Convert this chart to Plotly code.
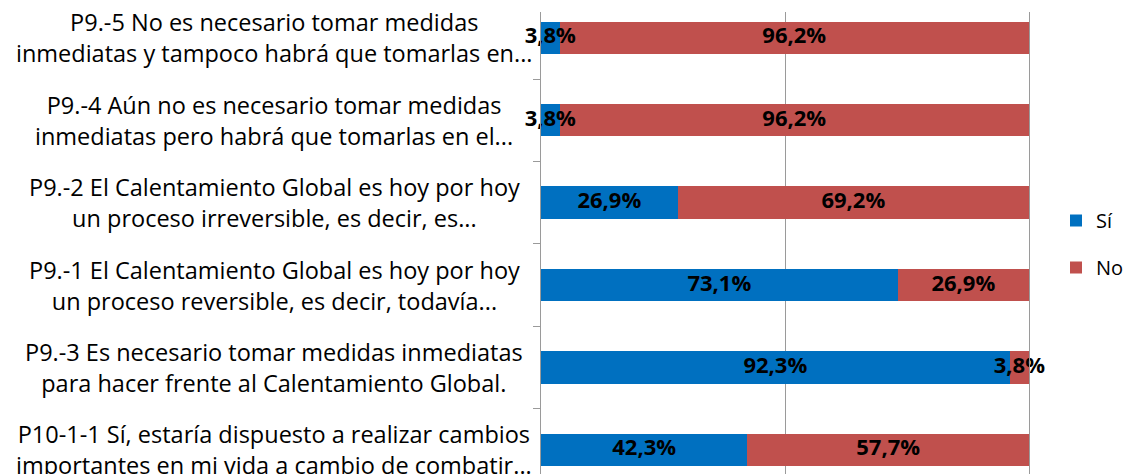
import numpy as np
import plotly.graph_objects as go

# ---- data ----
categories = [
    "P9.-5 No es necesario tomar medidas<br>inmediatas y tampoco habrá que tomarlas en...",
    "P9.-4 Aún no es necesario tomar medidas<br>inmediatas pero habrá que tomarlas en el...",
    "P9.-2 El Calentamiento Global es hoy por hoy<br>un proceso irreversible, es decir, es...",
    "P9.-1 El Calentamiento Global es hoy por hoy<br>un proceso reversible, es decir, todavía...",
    "P9.-3 Es necesario tomar medidas inmediatas<br>para hacer frente al Calentamiento Global.",
    "P10-1-1 Sí, estaría dispuesto a realizar cambios<br>importantes en mi vida a cambio de combatir...",
]
si_values = [3.8, 3.8, 26.9, 73.1, 92.3, 42.3]
no_values = [96.2, 96.2, 69.2, 26.9, 3.8, 57.7]
series_names = ["Sí", "No"]

# ---- styles ----
BLUE = "#0070C0"
RED = "#C0504D"
AXIS_GREY = "#9a9a9a"
FONT = "Open Sans"

W, H = 1124, 474
L, R, T, B = 541, 95, 12, 0
plot_w = W - L - R
plot_h = H - T - B

si = np.array(si_values)
no = np.array(no_values)
tot = si + no
si_n = si / tot * 100
no_n = no / tot * 100


def fmt(v):
    return f"{v:.1f}%".replace(".", ",")


fig = go.Figure()
fig.add_trace(go.Bar(
    name=series_names[0], y=categories, x=si_n, orientation="h",
    marker=dict(color=BLUE, line=dict(width=0)), legendgroup="si",
    hoverinfo="skip",
))
fig.add_trace(go.Bar(
    name=series_names[1], y=categories, x=no_n, orientation="h",
    marker=dict(color=RED, line=dict(width=0)), legendgroup="no",
    hoverinfo="skip",
))

# data labels centred on each segment, drawn on top of all bars
label_font = dict(family=FONT, size=22, color="#000000", weight="bold")
fig.add_trace(go.Scatter(
    x=si_n / 2, y=categories, mode="text", text=[fmt(v) for v in si],
    textposition="middle center", textfont=label_font,
    showlegend=False, cliponaxis=False, hoverinfo="skip",
))
fig.add_trace(go.Scatter(
    x=si_n + no_n / 2, y=categories, mode="text", text=[fmt(v) for v in no],
    textposition="middle center", textfont=label_font,
    showlegend=False, cliponaxis=False, hoverinfo="skip",
))

# category labels (centre-aligned two-line labels, as in the reference)
label_center_px = 274
for c in categories:
    fig.add_annotation(
        x=(label_center_px - L) / plot_w, xref="paper", y=c, yref="y",
        text=c, showarrow=False, xanchor="center", yanchor="middle",
        align="center", font=dict(family=FONT, size=23.5, color="#000000"),
    )

row_px = 82.4
first_center_px = 37.8
y_top = -(first_center_px - T) / row_px
y_bottom = y_top + plot_h / row_px

fig.update_layout(
    width=W, height=H,
    margin=dict(l=L, r=R, t=T, b=B, autoexpand=False),
    paper_bgcolor="white", plot_bgcolor="white",
    barmode="stack", bargap=0.606,
    font=dict(family=FONT, color="#000000"),
    showlegend=True,
    legend=dict(
        x=(1056 - L) / plot_w, xanchor="left",
        y=(H - B - 244) / plot_h, yanchor="middle",
        font=dict(family=FONT, size=20, color="#000000"),
        bgcolor="rgba(0,0,0,0)", traceorder="grouped", tracegroupgap=18,
    ),
    xaxis=dict(
        range=[0, 100], dtick=50, showgrid=True, gridcolor=AXIS_GREY,
        gridwidth=1, zeroline=False, showticklabels=False, showline=False,
        fixedrange=True,
    ),
    yaxis=dict(
        type="category", categoryorder="array", categoryarray=categories,
        range=[y_bottom, y_top], showticklabels=False, showgrid=False,
        zeroline=False, showline=True, linecolor=AXIS_GREY, linewidth=1,
        mirror=True, ticks="outside", ticklen=7, tickcolor=AXIS_GREY,
        tickwidth=1, tickson="boundaries", fixedrange=True,
    ),
)

fig.write_html(
    "out.html",
    config={"displayModeBar": False},
    post_script="document.body.style.margin='0';document.body.style.overflow='hidden';",
)
